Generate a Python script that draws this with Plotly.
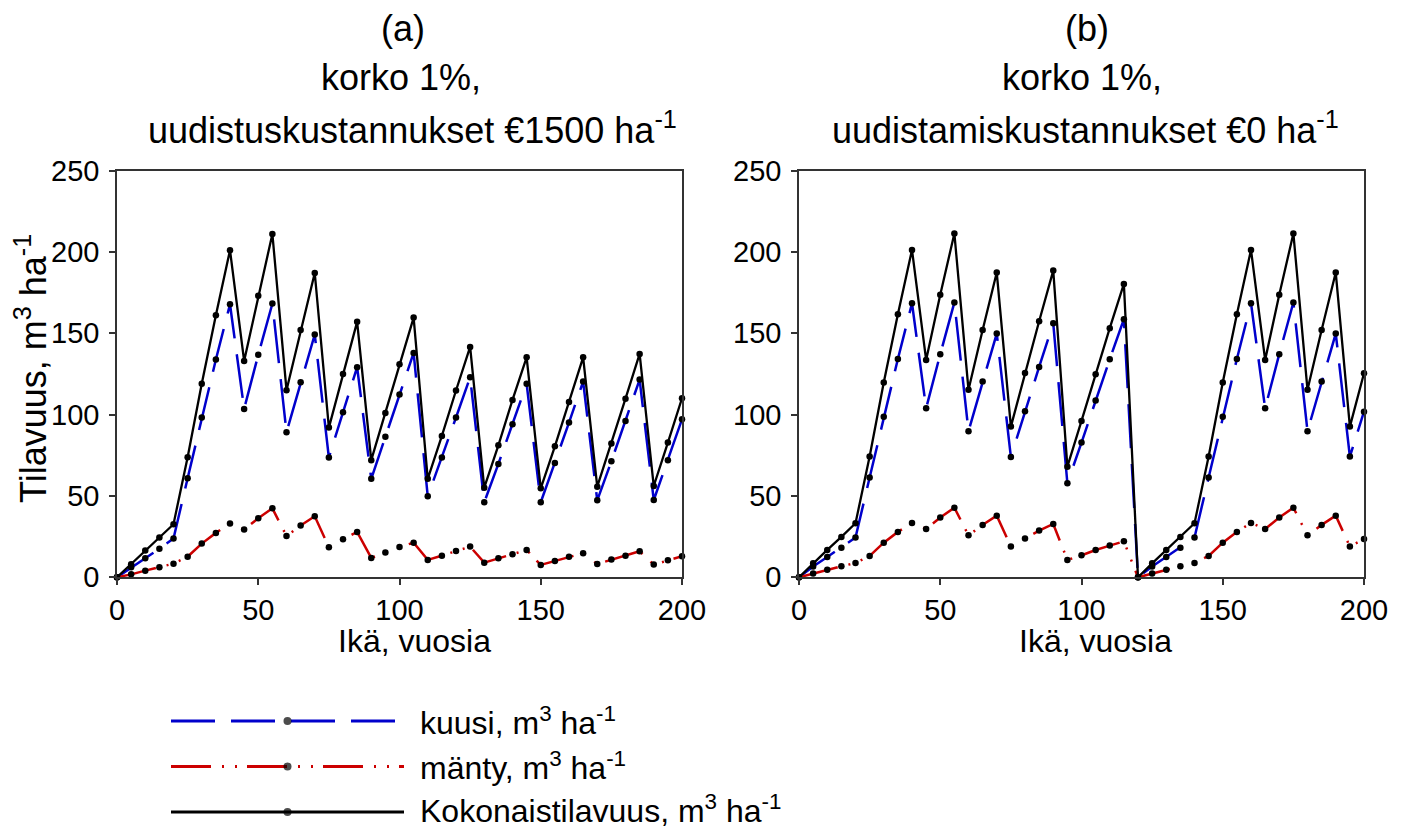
import plotly.graph_objects as go

# Stand age, years (5-year steps)
ages = list(range(0, 201, 5))

# (a) interest 1 %, regeneration cost 1500 EUR/ha
spruce_a = [0, 6.1, 11.7, 17.6, 23.8, 60.9, 98.2, 133.8, 167.8, 103.5, 136.7,
            168.2, 89.1, 119.9, 149.2, 73.6, 101.4, 129.1, 60.5, 86.3, 112.3,
            137.9, 49.8, 73.6, 98.2, 123.0, 46.1, 69.7, 94.1, 118.9, 46.1,
            70.3, 95.1, 120.3, 47.3, 71.3, 96.1, 121.5, 47.5, 71.9, 97.1]
pine_a = [0, 1.8, 4.1, 6.1, 8.4, 12.7, 20.7, 27.3, 33.0, 29.3, 36.3,
          42.4, 25.4, 31.8, 37.5, 18.4, 23.4, 27.9, 11.9, 15.2, 18.6,
          21.3, 10.7, 13.3, 16.2, 18.9, 9.0, 11.7, 14.1, 16.8, 7.6,
          10.0, 12.7, 14.8, 8.2, 10.9, 13.3, 16.0, 7.8, 10.5, 12.9]
total_a = [0, 8.0, 16.4, 24.4, 32.6, 73.8, 119.0, 161.0, 201.0, 133.0, 173.0,
           211.0, 115.0, 152.0, 187.0, 92.0, 125.0, 157.0, 72.0, 101.0, 131.0,
           159.6, 60.5, 86.9, 114.8, 141.6, 55.1, 81.1, 109.0, 135.2, 54.7,
           80.5, 107.8, 135.2, 55.7, 82.2, 109.8, 137.3, 56.1, 82.8, 110.0]

# (b) interest 1 %, regeneration cost 0 EUR/ha
spruce_b = [0, 6.6, 12.5, 18.2, 24.4, 61.3, 98.6, 134.2, 168.4, 103.9, 137.1,
            168.9, 89.8, 120.3, 149.8, 74.0, 102.0, 129.3, 156.1, 57.8, 82.8,
            108.6, 134.0, 158.6, 0, 6.6, 12.5, 18.2, 24.4, 61.3, 98.6,
            134.2, 168.4, 103.9, 137.1, 168.9, 89.8, 120.3, 149.8, 74.2, 101.8]
pine_b = [0, 2.3, 4.7, 6.8, 8.8, 13.1, 21.3, 27.9, 33.4, 29.7, 36.7,
          42.8, 25.8, 32.2, 37.9, 18.9, 23.8, 28.7, 32.8, 10.7, 13.5,
          16.8, 19.5, 22.1, 0, 2.3, 4.7, 6.8, 8.8, 13.1, 21.3,
          27.9, 33.4, 29.7, 36.7, 42.8, 25.8, 32.2, 37.9, 18.9, 23.6]
total_b = [0, 8.6, 16.8, 24.8, 33.2, 74.2, 119.7, 161.7, 201.2, 133.6, 173.6,
           211.3, 115.2, 152.0, 187.3, 92.6, 125.6, 157.4, 188.5, 68.0, 96.1,
           124.8, 153.1, 180.3, 0, 8.6, 16.8, 24.8, 33.2, 74.2, 119.7,
           161.7, 201.2, 133.6, 173.6, 211.3, 115.2, 152.0, 187.3, 92.6, 125.4]

x_ticks = [0, 50, 100, 150, 200]
y_ticks = [0, 50, 100, 150, 200, 250]

legend_labels = ["kuusi, m<sup>3</sup> ha<sup>-1</sup>",
                 "mänty, m<sup>3</sup> ha<sup>-1</sup>",
                 "Kokonaistilavuus, m<sup>3</sup> ha<sup>-1</sup>"]

FONT = "Liberation Sans, Arial, sans-serif"
W, H = 1414, 829

BLUE = "#0000cc"
RED = "#cc0000"
BLACK = "#000000"
DASH_BLUE = "44px,16px"
DASH_RED = "40px,11px,2px,11px,2px,10px"

styles = [
    (BLUE, DASH_BLUE, 2.5),
    (RED, DASH_RED, 2.5),
    (BLACK, "solid", 2.3),
]


def px_x(p):
    return p / W


def px_y(p):
    return 1 - p / H


fig = go.Figure()

panels = [
    ("x", "y", [spruce_a, pine_a, total_a]),
    ("x2", "y2", [spruce_b, pine_b, total_b]),
]
for xa, ya, series in panels:
    for vals, (col, dash, lw) in zip(series, styles):
        fig.add_trace(go.Scatter(
            x=ages, y=vals, xaxis=xa, yaxis=ya,
            mode="lines+markers",
            line=dict(color=col, width=lw, dash=dash),
            marker=dict(color=BLACK, size=6.5),
            cliponaxis=False, showlegend=False, hoverinfo="skip",
        ))

# legend drawn on its own small axis: one row per series (rows 2, 1, 0)
for row, (col, dash, lw) in zip([2, 1, 0], styles):
    fig.add_trace(go.Scatter(
        x=[0, 0.5, 1], y=[row, row, row], xaxis="x3", yaxis="y3",
        mode="lines+markers",
        line=dict(color=col, width=3, dash=dash),
        marker=dict(color=BLACK, size=[0, 8, 0], line=dict(width=0)),
        cliponaxis=False, showlegend=False, hoverinfo="skip",
    ))

axis_common = dict(
    showline=True, mirror=True, linecolor="#333333", linewidth=1.5,
    ticks="outside", ticklen=6, tickcolor="#333333", tickwidth=1.5,
    showgrid=False, zeroline=False, automargin=False,
    tickfont=dict(family=FONT, size=29, color=BLACK),
)

plot_top, plot_bot = 170.5, 577.3
ydom = [px_y(plot_bot), px_y(plot_top)]

# legend rows at 721, 766.5 and 812 px; 45.5 px per row unit
row_px = 45.5
leg_lo, leg_hi = -0.2, 2.2
leg_bot_px = 812 + (0 - leg_lo) * row_px
leg_top_px = 721 - (leg_hi - 2) * row_px

fig.update_layout(
    width=W, height=H,
    margin=dict(l=0, r=0, t=0, b=0, pad=0, autoexpand=False),
    paper_bgcolor="white", plot_bgcolor="white",
    showlegend=False,
    xaxis=dict(domain=[px_x(117), px_x(682)], range=[0, 200], tickvals=x_ticks,
               anchor="y", **axis_common),
    yaxis=dict(domain=ydom, range=[0, 250], tickvals=y_ticks, anchor="x",
               ticklabelstandoff=4, **axis_common),
    xaxis2=dict(domain=[px_x(799), px_x(1364)], range=[0, 200], tickvals=x_ticks,
                anchor="y2", **axis_common),
    yaxis2=dict(domain=ydom, range=[0, 250], tickvals=y_ticks, anchor="x2",
                ticklabelstandoff=4, **axis_common),
    xaxis3=dict(domain=[px_x(171), px_x(404)], range=[0, 1], visible=False,
                anchor="y3", fixedrange=True, automargin=False),
    yaxis3=dict(domain=[px_y(leg_bot_px), px_y(leg_top_px)], range=[leg_lo, leg_hi],
                visible=False, anchor="x3", fixedrange=True, automargin=False),
)

ann = []
title_font = dict(family=FONT, size=36, color=BLACK)

# panel titles: (line text, centre x, centre y) in pixels
titles = [
    ("(a)", 403, 28), ("korko 1%,", 401, 78),
    ("uudistuskustannukset €1500 ha<sup>-1</sup>", 412, 128),
    ("(b)", 1087, 28), ("korko 1%,", 1082, 78),
    ("uudistamiskustannukset €0 ha<sup>-1</sup>", 1085, 128),
]
for txt, cx, cy in titles:
    ann.append(dict(text=txt, x=px_x(cx), y=px_y(cy), xref="paper", yref="paper",
                    xanchor="center", yanchor="middle", showarrow=False,
                    font=title_font))

# x-axis titles
for cx in [415, 1095]:
    ann.append(dict(text="Ikä, vuosia", x=px_x(cx), y=px_y(641), xref="paper",
                    yref="paper", xanchor="center", yanchor="middle",
                    showarrow=False, font=dict(family=FONT, size=32, color=BLACK)))

# y-axis title
ann.append(dict(text="Tilavuus, m<sup>3</sup> ha<sup>-1</sup>", x=px_x(31),
                y=px_y(369), xref="paper", yref="paper", xanchor="center",
                yanchor="middle", textangle=-90, showarrow=False, font=title_font))

# legend texts
for cy, txt in zip([721, 766, 809], legend_labels):
    ann.append(dict(text=txt, x=px_x(418), y=px_y(cy), xref="paper", yref="paper",
                    xanchor="left", yanchor="middle", showarrow=False,
                    font=dict(family=FONT, size=32, color=BLACK)))

fig.update_layout(annotations=ann)

fig.write_html("out.html")
